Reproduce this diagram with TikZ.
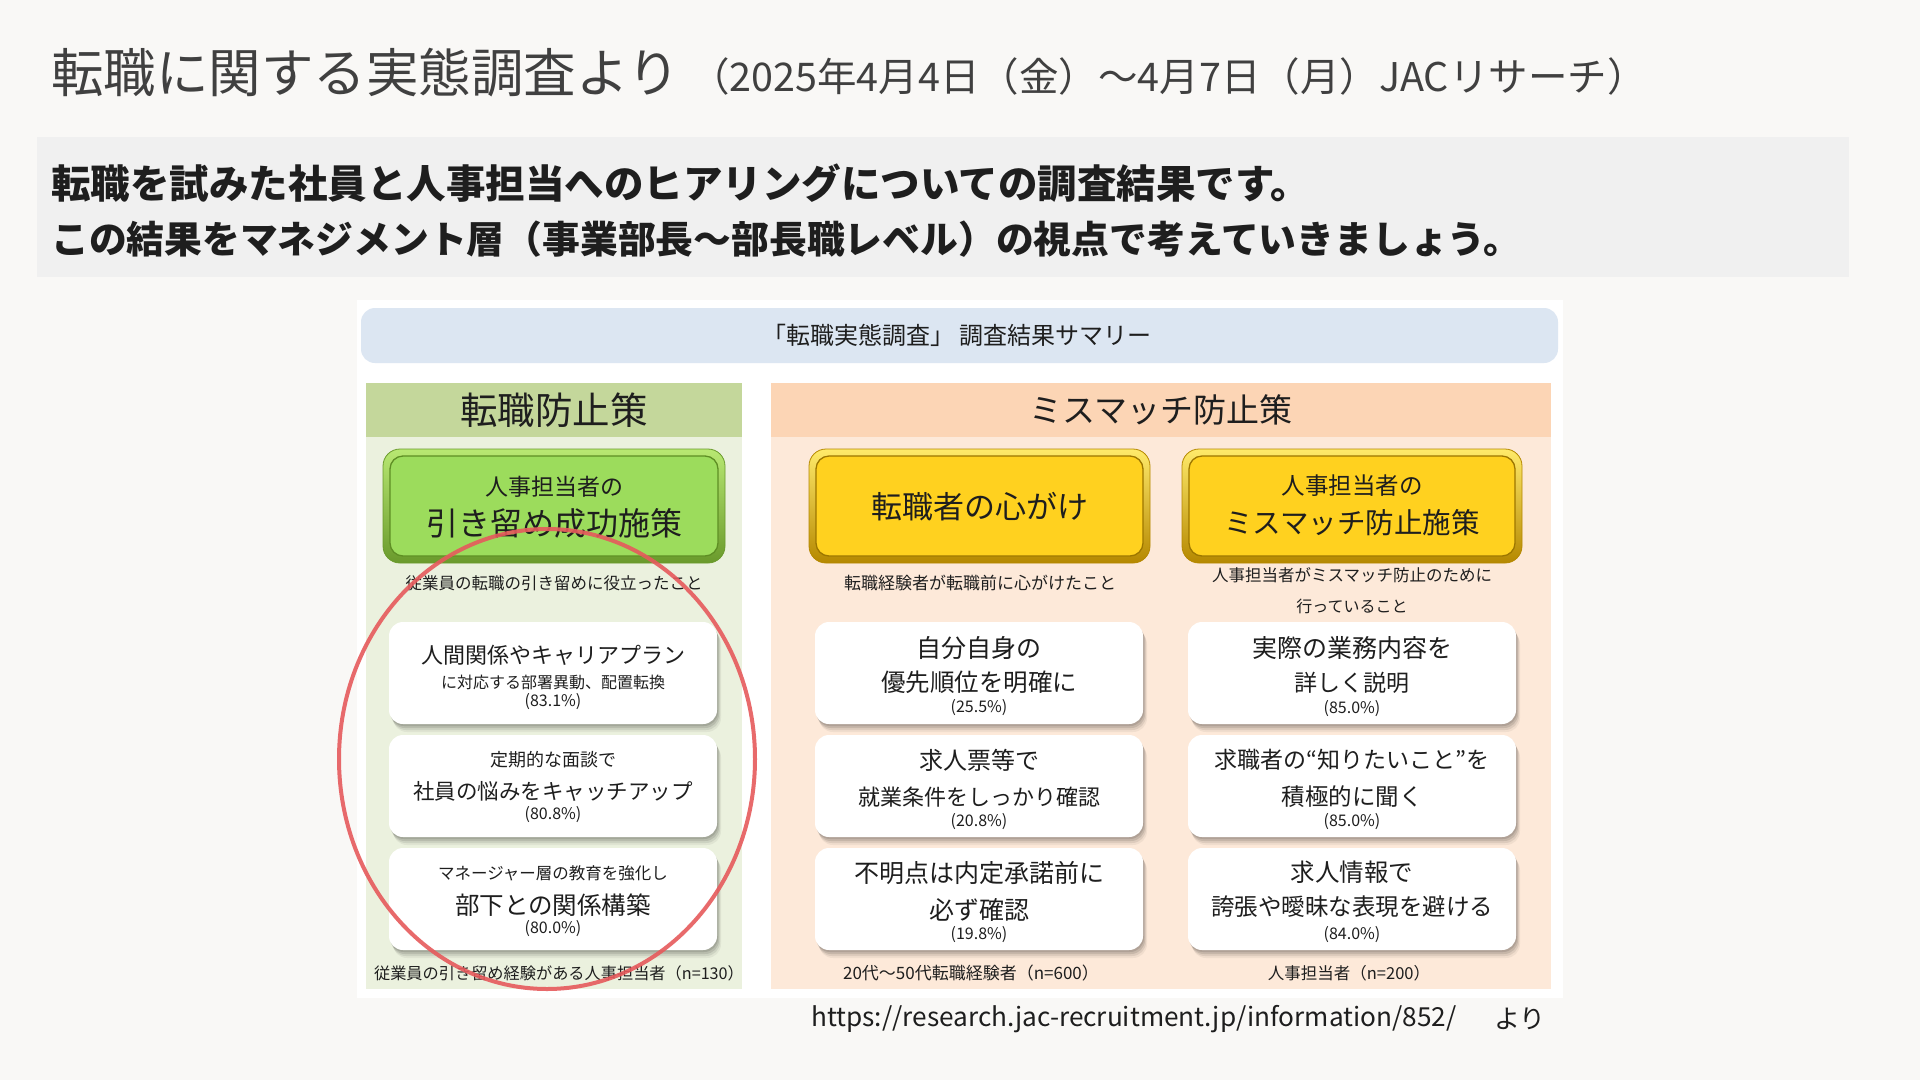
\documentclass[tikz,border=0pt]{standalone}
\usepackage{fontspec}
\setmainfont{Noto Sans CJK JP}
\usetikzlibrary{shadows}
\definecolor{bg}{HTML}{F9F8F6}
\definecolor{band}{HTML}{F0F0F0}
\definecolor{titlec}{HTML}{404040}
\definecolor{txt}{HTML}{1E1E1E}
\definecolor{bluebar}{HTML}{DCE6F2}
\definecolor{ghead}{HTML}{C4D79B}
\definecolor{gbody}{HTML}{EBF1DE}
\definecolor{phead}{HTML}{FCD5B5}
\definecolor{pbody}{HTML}{FDE9D9}
\definecolor{grim1}{HTML}{B8E872}
\definecolor{grim2}{HTML}{6A9A2C}
\definecolor{gplate}{HTML}{9CDC5C}
\definecolor{gline}{HTML}{5E8E24}
\definecolor{yrim1}{HTML}{FFEA6A}
\definecolor{yrim2}{HTML}{B58800}
\definecolor{yplate}{HTML}{FFD11F}
\definecolor{yline}{HTML}{9C7600}
\definecolor{redc}{HTML}{E65A5C}
\newcommand\fsz[1]{\fontsize{#1}{#1}\selectfont}
\tikzset{
  t/.style={inner sep=0pt, text=txt, anchor=center},
  card/.style={fill=white, rounded corners=14pt, inner sep=0pt,
    minimum width=328pt, minimum height=102pt,
    drop shadow={shadow xshift=1pt, shadow yshift=-2pt, fill=black, opacity=0.11},
    drop shadow={shadow xshift=2pt, shadow yshift=-4pt, fill=black, opacity=0.10},
    drop shadow={shadow xshift=3pt, shadow yshift=-6pt, fill=black, opacity=0.08},
    drop shadow={shadow xshift=4pt, shadow yshift=-8pt, fill=black, opacity=0.05}},
  grim/.style={rounded corners=17pt, top color=grim1, bottom color=grim2, draw=grim2, line width=0.8pt},
  gplt/.style={rounded corners=13pt, fill=gplate, draw=gline, line width=1.3pt},
  yrim/.style={rounded corners=17pt, top color=yrim1, bottom color=yrim2, draw=yrim2, line width=0.8pt},
  yplt/.style={rounded corners=13pt, fill=yplate, draw=yline, line width=1.3pt},
}
\begin{document}
\begin{tikzpicture}[x=1pt,y=-1pt]
\useasboundingbox (0,0) rectangle (1920,1080);
\fill[bg] (0,0) rectangle (1920,1080);

% title
\node[t, anchor=west, text=titlec] (title) at (51,73) {\fsz{52.5}転職に関する実態調査より};
\node[t, anchor=west, text=titlec] (subtitle) at (690,76) {\fsz{39.5}（2025年4月4日（金）～4月7日（月）JACリサーチ）};

% band
\fill[band] (37,137) rectangle (1849,277);
\node[t, anchor=west] (band1) at (51,183) {\fsz{39.5}\bfseries 転職を試みた社員と人事担当へのヒアリングについての調査結果です。};
\node[t, anchor=west] (band2) at (51,239) {\fsz{37.8}\bfseries この結果をマネジメント層（事業部長～部長職レベル）の視点で考えていきましょう。};

% summary panel
\fill[white] (357,300) rectangle (1563,998);
\fill[bluebar, rounded corners=14pt] (361,308) rectangle (1558,363);
\node[t] (bartxt) at (957,335) {\fsz{24}「転職実態調査」 調査結果サマリー};

\fill[ghead] (366,383) rectangle (742,437);
\fill[gbody] (366,437) rectangle (742,989);
\fill[phead] (771,383) rectangle (1551,437);
\fill[pbody] (771,437) rectangle (1551,989);
\node[t] (h1) at (554,410) {\fsz{37.5}転職防止策};
\node[t] (h2) at (1161,410) {\fsz{33}ミスマッチ防止策};

% buttons
\path[grim] (383,449) rectangle (725,563);
\path[gplt] (390,456) rectangle (718,556);
\path[yrim] (809,449) rectangle (1150,563);
\path[yplt] (816,456) rectangle (1143,556);
\path[yrim] (1182,449) rectangle (1522,563);
\path[yplt] (1189,456) rectangle (1515,556);

\node[t] (g1) at (554,487) {\fsz{23}人事担当者の};
\node[t] (g2) at (554,523) {\fsz{32}引き留め成功施策};
\node[t] (y1) at (980,507) {\fsz{31}転職者の心がけ};
\node[t] (y2a) at (1352,486) {\fsz{23.5}人事担当者の};
\node[t] (y2b) at (1352,523) {\fsz{28.5}ミスマッチ防止施策};

\node[t] (cap1) at (554,583) {\fsz{16.5}従業員の転職の引き留めに役立ったこと};
\node[t] (cap2) at (980,583) {\fsz{17}転職経験者が転職前に心がけたこと};
\node[t] (cap3a) at (1352,575) {\fsz{16.5}人事担当者がミスマッチ防止のために};
\node[t] (cap3b) at (1352,606) {\fsz{16}行っていること};

% cards
\node[card] (L1) at (553,673) {};
\node[card] (L2) at (553,786) {};
\node[card] (L3) at (553,899) {};
\node[card] (M1) at (979,673) {};
\node[card] (M2) at (979,786) {};
\node[card] (M3) at (979,899) {};
\node[card] (R1) at (1352,673) {};
\node[card] (R2) at (1352,786) {};
\node[card] (R3) at (1352,899) {};

\node[t] (L1a) at (553,655) {\fsz{22}人間関係やキャリアプラン};
\node[t] (L1b) at (553,682) {\fsz{16}に対応する部署異動、配置転換};
\node[t] (L1c) at (553,702) {\fsz{16}(83.1\%)};
\node[t] (L2a) at (553,760) {\fsz{18}定期的な面談で};
\node[t] (L2b) at (553,791) {\fsz{21.5}社員の悩みをキャッチアップ};
\node[t] (L2c) at (553,815) {\fsz{16}(80.8\%)};
\node[t] (L3a) at (553,873) {\fsz{16.5}マネージャー層の教育を強化し};
\node[t] (L3b) at (553,905) {\fsz{24.5}部下との関係構築};
\node[t] (L3c) at (553,929) {\fsz{16}(80.0\%)};

\node[t] (M1a) at (979,648) {\fsz{25}自分自身の};
\node[t] (M1b) at (979,682) {\fsz{24.5}優先順位を明確に};
\node[t] (M1c) at (979,708) {\fsz{16}(25.5\%)};
\node[t] (M2a) at (979,760) {\fsz{24}求人票等で};
\node[t] (M2b) at (979,797) {\fsz{22}就業条件をしっかり確認};
\node[t] (M2c) at (979,822) {\fsz{16}(20.8\%)};
\node[t] (M3a) at (979,873) {\fsz{25}不明点は内定承諾前に};
\node[t] (M3b) at (979,910) {\fsz{25}必ず確認};
\node[t] (M3c) at (979,935) {\fsz{16}(19.8\%)};

\node[t] (R1a) at (1352,648) {\fsz{25}実際の業務内容を};
\node[t] (R1b) at (1352,683) {\fsz{23}詳しく説明};
\node[t] (R1c) at (1352,709) {\fsz{16}(85.0\%)};
\node[t] (R2a) at (1352,760) {\fsz{23}求職者の“知りたいこと”を};
\node[t] (R2b) at (1352,797) {\fsz{23.5}積極的に聞く};
\node[t] (R2c) at (1352,822) {\fsz{16}(85.0\%)};
\node[t] (R3a) at (1352,872) {\fsz{24.5}求人情報で};
\node[t] (R3b) at (1352,907) {\fsz{23.5}誇張や曖昧な表現を避ける};
\node[t] (R3c) at (1352,935) {\fsz{16}(84.0\%)};

% footers
\node[t] (f1) at (559,973) {\fsz{16.2}従業員の引き留め経験がある人事担当者（n=130）};
\node[t] (f2) at (971,973) {\fsz{17}20代～50代転職経験者（n=600）};
\node[t] (f3) at (1349,973) {\fsz{16.5}人事担当者（n=200）};

% source
\node[t, anchor=west] (url) at (811,1019) {\fsz{26.2}https://research.jac-recruitment.jp/information/852/};
\node[t, anchor=west] (yori) at (1494,1019) {\fsz{26}より};

% red ellipse
\draw[redc, line width=4pt, opacity=0.9] (547,759) ellipse [x radius=208pt, y radius=230pt];
\end{tikzpicture}
\end{document}
